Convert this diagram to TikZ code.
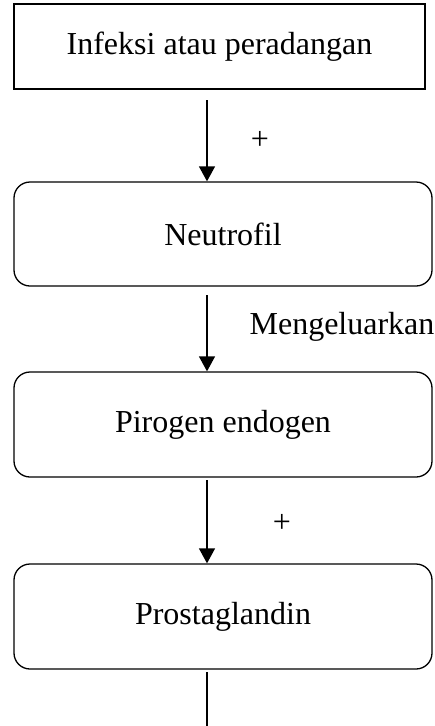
\documentclass[tikz,border=0pt]{standalone}
\usepackage{fontspec}
\setmainfont{Liberation Serif}
\usetikzlibrary{arrows.meta}
\tikzset{
  kotak/.style={draw,line width=1.3pt,minimum width=418pt,minimum height=104pt,
    inner sep=0pt,font=\fontsize{32}{38}\selectfont},
  kotakbulat/.style={kotak,rounded corners=16pt},
  panah/.style={line width=1.3pt,-{Triangle[length=15pt,width=16pt]}}
}
\begin{document}
\begin{tikzpicture}[x=1pt,y=-1pt]
  \useasboundingbox (0,0) rectangle (435,726);
  \draw
    (219.5,46.5) node[kotak,minimum width=411pt,minimum height=85pt] (infeksi){Infeksi atau peradangan}
    (223,234) node[kotakbulat] (neutrofil){Neutrofil}
    (223,424.5) node[kotakbulat,minimum height=105pt] (pirogen){Pirogen endogen}
    (223,616.5) node[kotakbulat,minimum height=105pt] (prosta){Prostaglandin};
  \coordinate (p1) at (207,100);
  \coordinate (p2) at (207,295);
  \coordinate (p3) at (207,480);
  \coordinate (p4) at (207,672);
  \coordinate (akhir) at (207,730);
  \begin{scope}[font=\fontsize{32}{38}\selectfont]
    \draw[panah] (p1) -- (p1 |- neutrofil.north);
    \draw[panah] (p2) -- (p2 |- pirogen.north);
    \draw[panah] (p3) -- (p3 |- prosta.north);
    \draw[line width=1.3pt] (p4) -- (akhir);
    \node (plus1) at (260,140) {+};
    \node (keluar) at (342,327) {Mengeluarkan};
    \node (plus2) at (282,523) {+};
  \end{scope}
\end{tikzpicture}
\end{document}
